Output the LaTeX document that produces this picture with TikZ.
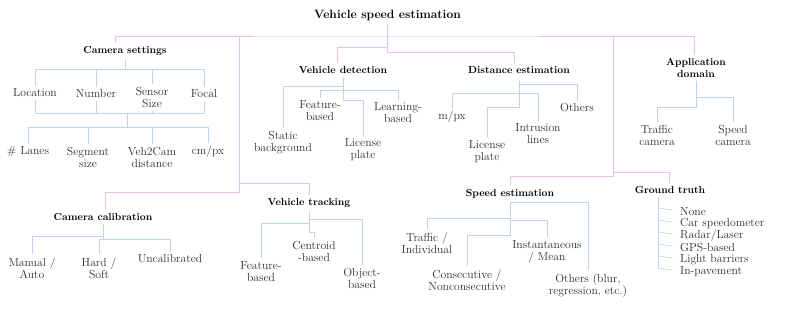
\documentclass[tikz,border=0pt]{standalone}
\usepackage{xcolor}
\usetikzlibrary{calc}
\definecolor{pk}{RGB}{228,196,228}
\definecolor{bl}{RGB}{194,210,230}
\definecolor{lf}{RGB}{45,45,45}
\begin{document}
\begin{tikzpicture}[x=1bp,y=-1bp,
  ttl/.style={font=\fontsize{12.1}{14}\selectfont\bfseries, inner sep=3bp},
  head/.style={font=\fontsize{10.25}{11.5}\selectfont\bfseries, align=center, inner sep=3bp},
  leaf/.style={font=\fontsize{11.7}{12}\selectfont, text=lf, align=center, inner sep=3bp},
  gitem/.style={font=\fontsize{11.7}{12}\selectfont, text=lf, anchor=west, inner sep=0bp},
  pl/.style={draw=pk, line width=0.6bp},
  bln/.style={draw=bl, line width=0.6bp}]
\useasboundingbox (0,0) rectangle (789,309);

% root and headers
\node[ttl] (root) at (387.5,15) {Vehicle speed estimation};
\node[head] (cs) at (125,51) {Camera settings};
\node[head] (vd) at (343,70) {Vehicle detection};
\node[head] (de) at (519,70) {Distance estimation};
\node[head] (ad) at (696,68) {Application\\domain};
\node[head] (cc) at (103,217) {Camera calibration};
\node[head] (vt) at (309,203) {Vehicle tracking};
\node[head] (se) at (510,194) {Speed estimation};
\node[head] (gt) at (670,190) {Ground truth};

% camera settings leaves
\node[leaf] (loc) at (35,93) {Location};
\node[leaf] (num) at (96,94) {Number};
\node[leaf] (ss) at (152,97.5) {Sensor\\Size};
\node[leaf] (foc) at (204,94) {Focal};
\node[leaf] (lan) at (28,152) {\# Lanes};
\node[leaf] (seg) at (88,157.5) {Segment\\size};
\node[leaf] (v2c) at (152,157.5) {Veh2Cam\\distance};
\node[leaf] (cmpx) at (208,152) {cm/px};

% vehicle detection leaves
\node[leaf] (sb) at (283,142.5) {Static\\background};
\node[leaf] (fb) at (320,111) {Feature-\\based};
\node[leaf] (lb) at (398,113) {Learning-\\based};
\node[leaf] (lp) at (363,150) {License\\plate};

% distance estimation leaves
\node[leaf] (mpx) at (452,117) {m/px};
\node[leaf] (lp2) at (487,152) {License\\plate};
\node[leaf] (il) at (538,134) {Intrusion\\lines};
\node[leaf] (oth) at (577,108) {Others};

% application domain leaves
\node[leaf] (tc) at (657,135) {Traffic\\camera};
\node[leaf] (sc) at (733,135) {Speed\\camera};

% camera calibration leaves
\node[leaf] (ma) at (32,268) {Manual /\\Auto};
\node[leaf] (hs) at (99,268) {Hard /\\Soft};
\node[leaf] (unc) at (170,259) {Uncalibrated};

% vehicle tracking leaves
\node[leaf] (fb2) at (261,271.5) {Feature-\\based};
\node[leaf] (cb) at (314,251.5) {Centroid\\-based};
\node[leaf] (ob) at (362,278.5) {Object-\\based};

% speed estimation leaves
\node[leaf] (ti) at (427,243) {Traffic /\\Individual};
\node[leaf] (im) at (547,252) {Instantaneous\\/ Mean};
\node[leaf] (cn) at (467,280) {Consecutive /\\Nonconsecutive};
\node[leaf] (ob2) at (588,285.5) {Others (blur,\\regression, etc.)};

% ground truth items
\node[gitem] (g1) at (680,212) {None};
\node[gitem] (g2) at (680,224) {Car speedometer};
\node[gitem] (g3) at (680,236) {Radar/Laser};
\node[gitem] (g4) at (680,248) {GPS-based};
\node[gitem] (g5) at (680,260) {Light barriers};
\node[gitem] (g6) at (680,272) {In-pavement};

% ---- pink connectors
\coordinate (jL) at (239,36);
\coordinate (jR) at (613,36);
\draw[pl] ($(cs.north)+(-10,0)$) |- (root.south |- 0,36) -| ($(ad.north)+(-2,0)$);
\draw[pl] (root.south) -- (root.south |- 0,47) -| ($(vd.north)+(-6,0)$);
\draw[pl] (root.south) -- (root.south |- 0,52) -| ($(de.north)+(-5,0)$);
\draw[pl] (jL) |- (vt.north |- 0,183) -- (vt.north);
\draw[pl] (jL) |- ($(cc.north |- 0,192)+(2,0)$) -- ($(cc.north)+(2,0)$);
\draw[pl] (jR) |- ($(gt.north |- 0,172)+(-1,0)$) -- ($(gt.north)+(-1,0)$);
\draw[pl] (jR) |- (se.north |- 0,176) -- (se.north);

% ---- blue connectors
\coordinate (cj) at (127,113);
\foreach \n in {loc,num,ss,foc}{
  \draw[bln] (cs.south) |- (\n.north |- 0,69) -- (\n.north);
  \draw[bln] (\n.south) |- (cj);
}
\foreach \n in {lan,seg,v2c,cmpx}
  \draw[bln] (cj) |- (\n.north |- 0,127) -- (\n.north);

\draw[bln] (vd.south) |- (sb.north |- 0,86) -- (sb.north);
\draw[bln] (vd.south) |- (fb.north |- 0,90) -- (fb.north);
\draw[bln] (vd.south) |- (lb.north |- 0,90) -- (lb.north);
\draw[bln] (vd.south) |- (lp.north |- 0,100) -- (lp.north);

\draw[bln] ($(de.south)+(0,4)$) |- (oth.north |- 0,84) -- (oth.north);
\draw[bln] ($(de.south)+(0,4)$) |- (mpx.north |- 0,93) -- (mpx.north);
\draw[bln] ($(de.south)+(0,4)$) |- (il.north |- 0,93) -- (il.north);
\draw[bln] ($(de.south)+(0,4)$) |- (lp2.north |- 0,107) -- (lp2.north);

\draw[bln] (ad.south) |- (sc.north |- 0,97) -- (sc.north);
\draw[bln] (ad.south) |- (tc.north |- 0,107) -- (tc.north);

\draw[bln] (cc.south) |- (ma.north |- 0,236) -- (ma.north);
\draw[bln] (cc.south) |- (hs.north |- 0,239) -- (hs.north);
\draw[bln] (cc.south) |- (unc.north |- 0,239) -- (unc.north);

\draw[bln] (vt.south) |- (ob.north |- 0,219) -- (ob.north);
\draw[bln] (vt.south) |- (fb2.north |- 0,223) -- (fb2.north);
\draw[bln] (vt.south) |- (cb.north |- 0,232) -- (cb.north);

\draw[bln] (se.south) |- (ob2.north |- 0,202) -- (ob2.north);
\draw[bln] (se.south) |- (ti.north |- 0,218) -- (ti.north);
\draw[bln] (se.south) |- (im.north |- 0,220) -- (im.north);
\draw[bln] (se.south) |- (cn.north |- 0,235) -- (cn.north);

\draw[bln] ($(gt.south)+(-12,0)$) -- ($(gt.south |- g6.west)+(-12,-4)$);
\foreach \n in {g1,g2,g3,g4,g5,g6}
  \draw[bln] ($(gt.south |- \n.west)+(-12,-4)$) -- ($(\n.west)+(-7,-2)$);
\end{tikzpicture}
\end{document}
